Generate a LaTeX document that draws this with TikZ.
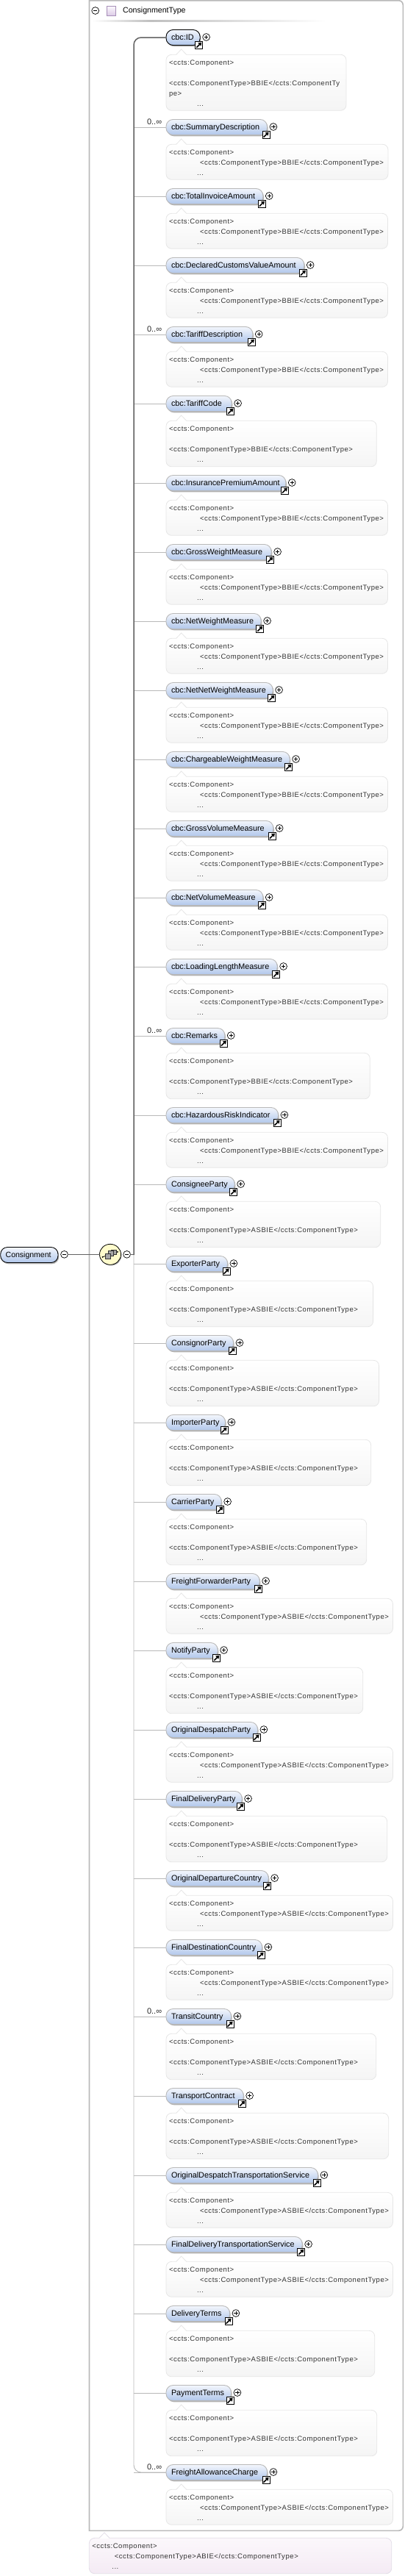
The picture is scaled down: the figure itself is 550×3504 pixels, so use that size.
\documentclass[tikz,border=0pt]{standalone}
\usepackage{fontspec}
\setmainfont{Liberation Sans}
\newfontfamily\notefont[LetterSpace=6]{Liberation Sans}
\usetikzlibrary{arrows.meta,calc,shadows,shapes.geometric}
\definecolor{pilltop}{HTML}{F3F6FC}
\definecolor{pillbot}{HTML}{B1C7EB}
\definecolor{wiredark}{HTML}{636363}
\definecolor{wirelight}{HTML}{B9B9B9}
\definecolor{noteline}{HTML}{E6E6E6}
\definecolor{typeline}{HTML}{E3DEE8}
\definecolor{icontop}{HTML}{FBF8FD}
\definecolor{iconbot}{HTML}{DCCBE6}
\definecolor{iconline}{HTML}{A78FB8}
\tikzset{
	pill/.style={anchor=west,draw=wirelight,line width=.9pt,outer sep=0pt,rounded corners=9.5pt,
		top color=pilltop,bottom color=pillbot,minimum height=21pt,inner ysep=0pt,inner xsep=7pt,
		text height=9pt,text depth=1.5pt,align=left,font=\fontsize{10.8}{13}\selectfont,
		drop shadow={shadow xshift=1.2pt,shadow yshift=-1.8pt,opacity=.3,fill=black}},
	note/.style={anchor=north west,draw=noteline,line width=.8pt,outer sep=0pt,rounded corners=7.5pt,
		top color=white,bottom color=black!4,inner xsep=4pt,inner ysep=0pt,align=left,
		text=black!80,font=\notefont\fontsize{9.5}{14}\selectfont},
	note short/.style={minimum height=48pt},
	note long/.style={minimum height=62.5pt},
	note wrap/.style={minimum height=76pt},
	btn/.style={circle,draw=black,fill=white,line width=.7pt,minimum size=9.8pt,inner sep=0pt},
	minusbtn/.style={btn,path picture={
		\draw[line width=.7pt] ([xshift=-2.6pt]path picture bounding box.center) -- ([xshift=2.6pt]path picture bounding box.center);}},
	plusbtn/.style={btn,path picture={
		\draw[line width=.7pt] ([xshift=-2.6pt]path picture bounding box.center) -- ([xshift=2.6pt]path picture bounding box.center);
		\draw[line width=.7pt] ([yshift=-2.6pt]path picture bounding box.center) -- ([yshift=2.6pt]path picture bounding box.center);}},
	badge/.style={rectangle,draw=black,fill=white,line width=.8pt,minimum size=10pt,inner sep=0pt,path picture={
		\draw[line width=1.6pt,-{Triangle[length=4.2pt,width=5.6pt]}]
			([xshift=-3.4pt,yshift=-3.4pt]path picture bounding box.center) -- ([xshift=3.6pt,yshift=3.6pt]path picture bounding box.center);}},
	occ/.style={anchor=east,inner sep=0pt,font=\fontsize{11}{12}\selectfont,text=black!85},
	branch/.style={draw=wirelight,line width=.9pt},
	seqwire/.style={draw=wiredark,line width=1.5pt,line cap=rect}
}
\newcommand{\noteshort}[1]{\rule{0pt}{8pt}<ccts:Component>\\\hspace*{42pt}<ccts:ComponentType>#1</ccts:ComponentType>\\[.2pt]\hspace*{38pt}...}
\newcommand{\notelong}[1]{\rule{0pt}{8pt}<ccts:Component>\\[14pt]<ccts:ComponentType>#1</ccts:ComponentType>\\[.2pt]\hspace*{38pt}...}
\newcommand{\notewrap}[1]{\rule{0pt}{8pt}<ccts:Component>\\[14pt]<ccts:ComponentType>#1</ccts:ComponentTy\\pe>\\[.2pt]\hspace*{38pt}...}
% little roof on top of a note
\newcommand{\notetip}[3]{
	\fill[#2] ($(#1.north west)+(13.7,0.7)$) -- ++(7,-8) -- ++(7,8) -- cycle;
	\draw[draw=#3,line width=.8pt] ($(#1.north west)+(13.7,0)$) -- ++(7,-7.3) -- ++(7,7.3);
}
\begin{document}
\begin{tikzpicture}[x=1pt,y=-1pt]
   \useasboundingbox (0,0) rectangle (550,3504);
   % outer frame of the type
   \draw[wirelight,line width=1.6pt] (121.5,3442.3) -- (121.5,0.7) [rounded corners=6pt] -- (548.3,0.7) -- (548.3,3442.3) [sharp corners] -- cycle;
   \node[minusbtn] (typeminus) at (129.7,14.5) {};
   \node[rectangle,draw=iconline,top color=icontop,bottom color=iconbot,line width=.8pt,minimum size=12.5pt,inner sep=0pt] (typeicon) at (151.2,14.8) {};
   \node[anchor=west,inner sep=0pt,font=\fontsize{10.6}{13}\selectfont] (typename) at (167,15) {ConsignmentType};
   \shade[left color=white,right color=black!25] (125,27.8) rectangle (205,29.8);
   \shade[left color=black!25,right color=white] (205,27.8) rectangle (443,29.8);

   % root element and compositor
   \node[pill,draw=black,minimum width=78.3pt,text width=64.3pt,font=\fontsize{10.5}{13}\selectfont] (root) at (0.7,1707) {Consignment};
   \node[minusbtn] (rootminus) at (87.5,1706.3) {};
   \node[ellipse,draw=black,fill=yellow!20!white,line width=.8pt,minimum width=29pt,minimum height=28pt,inner sep=0pt,
         drop shadow={shadow xshift=1pt,shadow yshift=-1.2pt,opacity=.35,fill=black}] (seq) at (150,1706.3) {};
   \node[minusbtn] (seqminus) at (172.6,1706.3) {};
   \coordinate (spine) at (182,1706.3);
   \draw[seqwire] (rootminus) -- (seq);
   \begin{scope}[shift={(seq.center)}]
      \draw[black,line width=.8pt] (-10.5,3.5) -- (10,-3.5);
      \fill[black] (-10.5,3.5) circle (1) (10,-3.5) circle (1);
      \foreach \sx/\sy in {4.7/-3,.4/-1.3,-3/2.4}
         \draw[black!80,fill=black!35,line width=.6pt] (\sx-3.4,\sy-3.4) rectangle (\sx+3.4,\sy+3.4);
   \end{scope}

   % one pill, badge, button and note for each child
   \foreach \eln/\yy/\pr/\br/\kd/\ct/\oc [count=\i] in {
      cbc:ID/50.3/272.2/471/wrap/BBIE/0,
      cbc:SummaryDescription/172.3/363.5/528/short/BBIE/1,
      cbc:TotalInvoiceAmount/266.3/357.8/527.5/short/BBIE/0,
      cbc:DeclaredCustomsValueAmount/360.3/413.8/527.5/short/BBIE/0,
      cbc:TariffDescription/454.3/343.8/527.5/short/BBIE/1,
      cbc:TariffCode/548.3/315.2/512.3/long/BBIE/0,
      cbc:InsurancePremiumAmount/656.3/388.8/527.5/short/BBIE/0,
      cbc:GrossWeightMeasure/750.3/369.2/527.5/short/BBIE/0,
      cbc:NetWeightMeasure/844.3/355.2/527.5/short/BBIE/0,
      cbc:NetNetWeightMeasure/938.3/371.2/527.5/short/BBIE/0,
      cbc:ChargeableWeightMeasure/1032.3/394.2/527.5/short/BBIE/0,
      cbc:GrossVolumeMeasure/1126.3/371.8/527.5/short/BBIE/0,
      cbc:NetVolumeMeasure/1220.3/357.8/527.5/short/BBIE/0,
      cbc:LoadingLengthMeasure/1314.3/377.2/527.5/short/BBIE/0,
      cbc:Remarks/1408.3/305.8/503.3/long/BBIE/1,
      cbc:HazardousRiskIndicator/1516.3/378.5/527.5/short/BBIE/0,
      ConsigneeParty/1610.3/319.2/517.7/long/ASBIE/0,
      ExporterParty/1718.3/309.5/507.6/long/ASBIE/0,
      ConsignorParty/1826.3/317.5/515.6/long/ASBIE/0,
      ImporterParty/1934.3/306.5/504.7/long/ASBIE/0,
      CarrierParty/2042.3/301.2/498.7/long/ASBIE/0,
      FreightForwarderParty/2150.3/353.2/534.5/short/ASBIE/0,
      NotifyParty/2244.3/296.2/493.7/long/ASBIE/0,
      OriginalDespatchParty/2352.3/350.5/534.5/short/ASBIE/0,
      FinalDeliveryParty/2446.3/329.2/526.7/long/ASBIE/0,
      OriginalDepartureCountry/2554.3/365.2/534.5/short/ASBIE/0,
      FinalDestinationCountry/2648.3/356.5/534.5/short/ASBIE/0,
      TransitCountry/2742.3/314.5/511.7/long/ASBIE/1,
      TransportContract/2850.3/331.2/528.7/long/ASBIE/0,
      OriginalDespatchTransportationService/2958.3/432.5/534.5/short/ASBIE/0,
      FinalDeliveryTransportationService/3052.3/411.2/534.5/short/ASBIE/0,
      DeliveryTerms/3146.3/312.5/509.7/long/ASBIE/0,
      PaymentTerms/3254.3/314.5/512.8/long/ASBIE/0,
      FreightAllowanceCharge/3362.3/363.5/534.5/short/ASBIE/1} {
      \pgfmathsetlengthmacro{\pw}{(\pr-226)*1pt}
      \pgfmathsetlengthmacro{\ptw}{(\pr-240)*1pt}
      \pgfmathsetlengthmacro{\bw}{(\br-226)*1pt}
      \pgfmathsetlengthmacro{\btw}{(\br-234)*1pt}
      \tikzset{mandline1/.style={draw=black}}
      \node[pill,mandline\i/.try,minimum width=\pw,text width=\ptw] (el\i) at (226,\yy+.7) {\mbox{\eln}};
      \node[badge] (badge\i) at ($(el\i.east)+(-1.5,10.2)$) {};
      \node[plusbtn] (plus\i) at ($(el\i.east)+(8.4,-.5)$) {};
      \node[note,note \kd,minimum width=\bw,text width=\btw] (note\i) at (226,\yy+24) {\csname note\kd\endcsname{\ct}};
      \notetip{note\i}{white}{noteline}
      \ifnum\oc=1
         \node[occ] (occ\i) at (220.3,\yy-6.7) {0..∞};
      \fi
      \ifnum\i>1
         \draw[branch] (el\i.west) -- (el\i.west -| spine);
      \fi
   }
   \draw[branch,rounded corners=10pt] (spine) |- (el34.west);
   \draw[seqwire] (seqminus) -- (spine);
   \draw[seqwire,rounded corners=10pt] (spine) |- (el1.west);

   % annotation of the type itself
   \node[note,minimum width=411.5pt,minimum height=48.4pt,text width=403.5pt,top color=black!2!violet!3,bottom color=black!4!violet!8,draw=typeline] (typenote) at (121.3,3452.3) {\rule{0pt}{8pt}<ccts:Component>\\\hspace*{30.5pt}<ccts:ComponentType>ABIE</ccts:ComponentType>\\[.2pt]\hspace*{27pt}...};
   \notetip{typenote}{white}{typeline}
\end{tikzpicture}
\end{document}
